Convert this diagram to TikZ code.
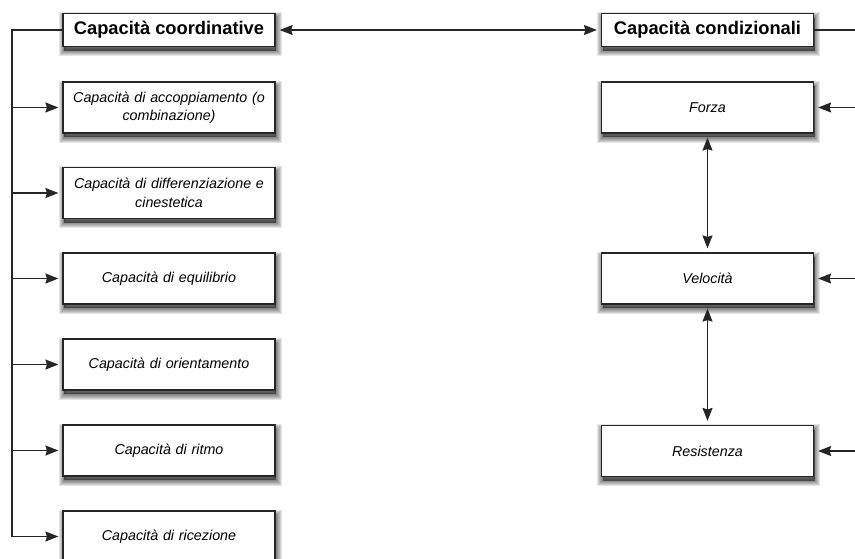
\documentclass[tikz,border=0pt]{standalone}
\usepackage{fontspec}
\setmainfont{Liberation Sans}
\usetikzlibrary{arrows.meta}

\tikzset{
  % soft drop shadow built from stacked translucent strokes
  shadowlayer/.style={preaction={draw=black, fill=black, line width=#1,
      draw opacity=0.1, fill opacity=0.1,
      transform canvas={shift={(1pt,-4pt)}}}},
  shadowed/.style={shadowlayer=11pt, shadowlayer=9pt, shadowlayer=7pt,
    shadowlayer=5pt, shadowlayer=3pt, shadowlayer=1.2pt},
  box/.style={draw=black!85, fill=white, line width=1.2pt, shadowed,
    minimum width=212pt, minimum height=51pt, text width=205pt, align=center,
    inner sep=0pt, font=\itshape\fontsize{14.3}{18.5}\selectfont},
  headbox/.style={draw=black!85, fill=white, line width=1.2pt, shadowed,
    minimum width=212pt, minimum height=33pt, inner sep=0pt,
    font=\bfseries\fontsize{18.3}{20}\selectfont},
  link/.style={line width=1.3pt, black!85},
  tip/.tip={Stealth[length=13pt,width=10pt,inset=1.5pt]},
  arr/.style={link, -tip, shorten >=4pt},
  biarr/.style={link, tip-tip, shorten >=4pt, shorten <=4pt},
}

\begin{document}
\begin{tikzpicture}[x=1pt,y=1pt]
\useasboundingbox (0,0) rectangle (855,-558);
\clip (0,0) rectangle (855,-558);

% left column: coordinative abilities
\node[headbox] (hl) at (169,-30) {Capacità coordinative};
\node[box] (l1) at (169,-107.5) {Capacità di accoppiamento (o\\combinazione)};
\node[box] (l2) at (169,-193) {Capacità di differenziazione e\\cinestetica};
\node[box] (l3) at (169,-278.5) {Capacità di equilibrio};
\node[box] (l4) at (169,-364.5) {Capacità di orientamento};
\node[box] (l5) at (169,-450.5) {Capacità di ritmo};
\node[box] (l6) at (169,-536.5) {Capacità di ricezione};

% right column: conditional abilities
\node[headbox] (hr) at (707.5,-30) {Capacità condizionali};
\node[box] (r1) at (707.5,-107.5) {Forza};
\node[box] (r2) at (707.5,-278.5) {Velocità};
\node[box] (r3) at (707.5,-451) {Resistenza};

% link between the two headers
\draw[biarr] (hl.east) -- (hr.west);

% left trunk feeding every coordinative box
\coordinate (lt) at (12,-30);
\draw[link] (hl.west) -- (lt) -- (lt |- l6.west);
\foreach \b in {l1,l2,l3,l4,l5,l6}
  \draw[arr] (lt |- \b.west) -- (\b.west);

% right side: header line and incoming arrows
\coordinate (rt) at (855,-30);
\draw[link] (hr.east) -- (rt);
\foreach \b in {r1,r2,r3}
  \draw[arr] (rt |- \b.east) -- (\b.east);

% vertical links between conditional abilities
\draw[biarr] (r1.south) -- (r2.north);
\draw[biarr] (r2.south) -- (r3.north);
\end{tikzpicture}
\end{document}
